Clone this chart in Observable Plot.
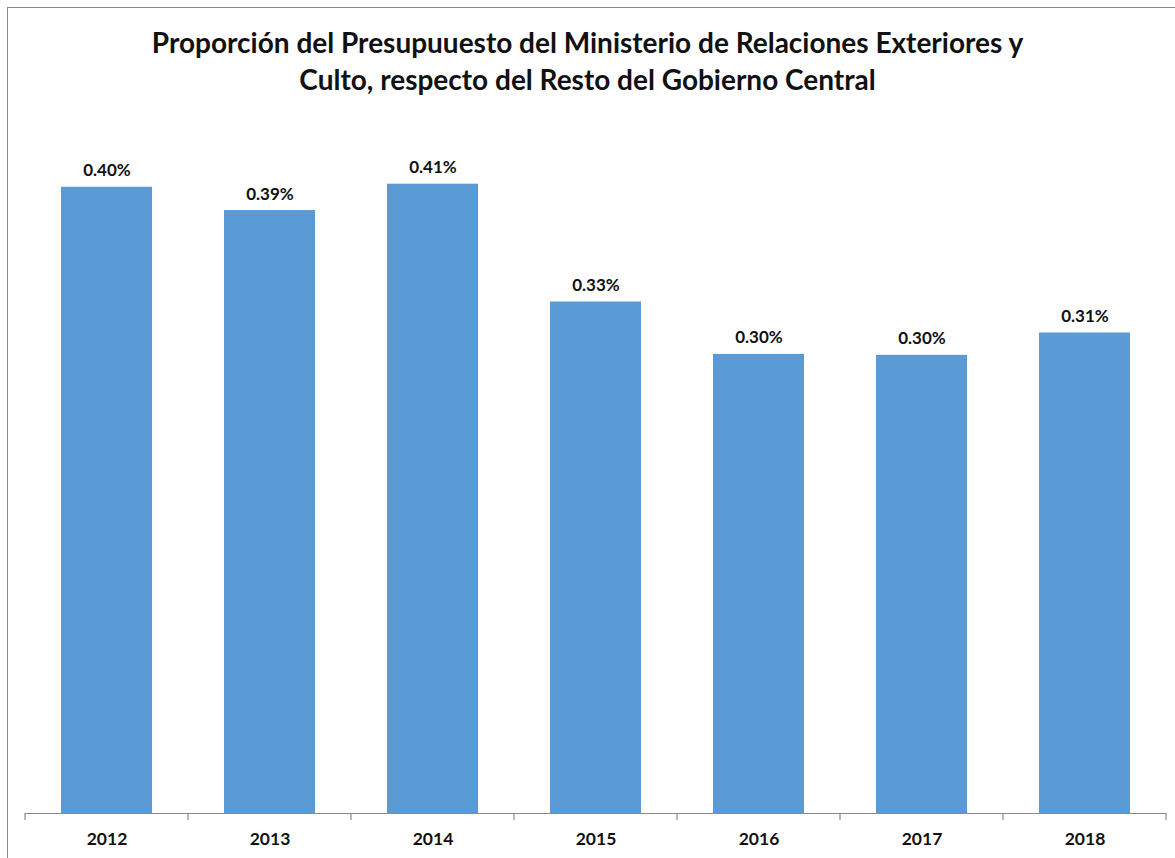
<!DOCTYPE html>
<html>
<head>
<meta charset="utf-8">
<script src="https://cdn.jsdelivr.net/npm/d3@7"></script>
<script src="https://cdn.jsdelivr.net/npm/@observablehq/plot@0.6"></script>
<style>
  html, body { margin: 0; padding: 0; background: #fff; }
  #frame { position: absolute; left: 7px; top: 7px; width: 1200px; height: 900px;
           border-left: 1.5px solid #8a8a8a; border-top: 1.5px solid #8a8a8a; box-sizing: border-box; }
  #title { position: absolute; left: 0; top: 24px; width: 1175px; text-align: center;
           font-family: Lato, "Open Sans", sans-serif; font-weight: bold; font-size: 28px;
           line-height: 37px; color: #111; }
  #chart { position: absolute; left: 0; top: 110px; }
</style>
</head>
<body>
<div id="frame"></div>
<div id="title">Proporción del Presupuuesto del Ministerio de Relaciones Exteriores y<br>Culto, respecto del Resto del Gobierno Central</div>
<div id="chart"></div>
<script>
const years = ["2012", "2013", "2014", "2015", "2016", "2017", "2018"];
const shares = [0.404, 0.389, 0.406, 0.330, 0.2962, 0.2956, 0.310];

const data = years.map((y, i) => ({year: y, value: shares[i]}));
const W = 1175, ML = 25, MR = 9;

const plot = Plot.plot({
  width: W,
  height: 748,
  marginLeft: ML,
  marginRight: MR,
  marginTop: 5.5,
  marginBottom: 45,
  style: {fontFamily: "Lato, 'Open Sans', sans-serif", background: "transparent"},
  x: {domain: years, paddingInner: 0.44, paddingOuter: 0.22, label: null},
  y: {domain: [0, 0.45], axis: null},
  marks: [
    Plot.barY(data, {x: "year", y: "value", fill: "#5b9bd5"}),
    Plot.text(data, {x: "year", y: "value", text: d => d.value.toFixed(2) + "%",
      dy: -11, lineAnchor: "bottom", fontSize: 17, fontWeight: "bold", fill: "#111"}),
    Plot.ruleY([0], {stroke: "#8a8a8a", strokeWidth: 1.2}),
    Plot.axisX({tickSize: 0, tickPadding: 19, fontSize: 17.5, fontWeight: "bold", fill: "#111", label: null})
  ]
});
document.getElementById("chart").appendChild(plot);

// boundary tick marks below the axis line, positioned from the band scale
const xs = plot.scale("x");
const ys = plot.scale("y");
const y0 = ys.apply(0);
const svg = d3.select(plot);
const tickPos = years.map(y => xs.apply(y) - (xs.step - xs.bandwidth) / 2)
  .concat([xs.apply(years[years.length - 1]) + xs.bandwidth + (xs.step - xs.bandwidth) / 2]);
svg.append("g").selectAll("line").data(tickPos).join("line")
  .attr("x1", d => d).attr("x2", d => d)
  .attr("y1", y0).attr("y2", y0 + 7)
  .attr("stroke", "#8a8a8a").attr("stroke-width", 1.2);
</script>
</body>
</html>
